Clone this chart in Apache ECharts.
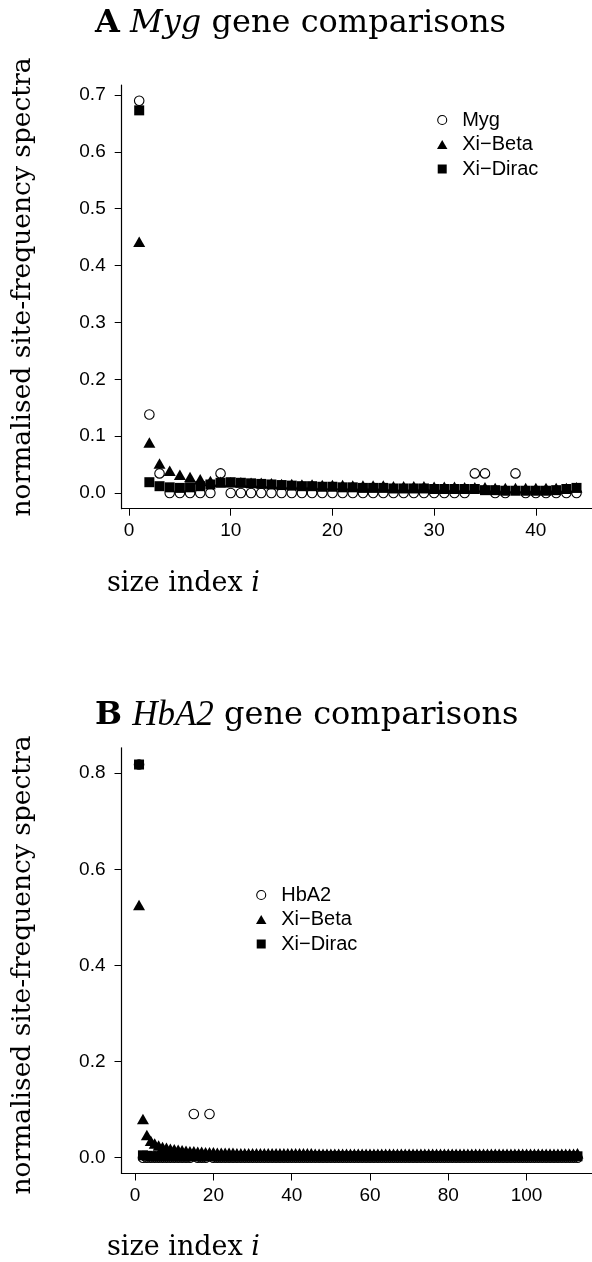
<!DOCTYPE html>
<html><head><meta charset="utf-8">
<script src="https://cdn.jsdelivr.net/npm/echarts@6/dist/echarts.min.js"></script>
<style>html,body{margin:0;padding:0;background:#fff}#c{width:592px;height:1262px}</style>
</head><body><div id="c"></div>
<script>
// ---------- Panel A: Myg ----------
const sizeTop = [1,2,3,4,5,6,7,8,9,10,
  11,12,13,14,15,16,17,18,19,20,
  21,22,23,24,25,26,27,28,29,30,
  31,32,33,34,35,36,37,38,39,40,
  41,42,43,44];
const mygTop = [0.690,0.138,0.0345,0,0,0,0,0,0.0345,0,
  0,0,0,0,0,0,0,0,0,0,
  0,0,0,0,0,0,0,0,0,0,
  0,0,0,0.0345,0.0345,0,0,0.0345,0,0,
  0,0,0,0];
const betaTop = [0.439,0.086,0.049,0.036,0.029,0.025,0.021,0.018,0.017,0.016,
  0.016,0.015,0.015,0.014,0.013,0.013,0.012,0.012,0.011,0.011,
  0.011,0.010,0.010,0.010,0.010,0.009,0.009,0.009,0.009,0.008,
  0.008,0.008,0.007,0.007,0.007,0.006,0.006,0.006,0.006,0.006,
  0.006,0.006,0.006,0.007];
const diracTop = [0.673,0.019,0.012,0.010,0.009,0.010,0.012,0.015,0.018,0.019,
  0.018,0.017,0.016,0.015,0.014,0.013,0.012,0.012,0.011,0.011,
  0.010,0.010,0.009,0.009,0.009,0.008,0.008,0.008,0.008,0.007,
  0.007,0.007,0.007,0.007,0.005,0.005,0.004,0.004,0.004,0.004,
  0.004,0.005,0.007,0.009];
const xTicksTop = [0,10,20,30,40];
const yTicksTop = [0,0.1,0.2,0.3,0.4,0.5,0.6,0.7];

// ---------- Panel B: HbA2 ----------
const sizeBottom = [1,2,3,4,5,6,7,8,9,10,
  11,12,13,14,15,16,17,18,19,20,
  21,22,23,24,25,26,27,28,29,30,
  31,32,33,34,35,36,37,38,39,40,
  41,42,43,44,45,46,47,48,49,50,
  51,52,53,54,55,56,57,58,59,60,
  61,62,63,64,65,66,67,68,69,70,
  71,72,73,74,75,76,77,78,79,80,
  81,82,83,84,85,86,87,88,89,90,
  91,92,93,94,95,96,97,98,99,100,
  101,102,103,104,105,106,107,108,109,110,
  111,112,113];
const hbBottom = [0.818,0,0,0,0,0,0,0,0,0,
  0,0,0,0,0.091,0,0,0,0.091,0,
  0,0,0,0,0,0,0,0,0,0,
  0,0,0,0,0,0,0,0,0,0,
  0,0,0,0,0,0,0,0,0,0,
  0,0,0,0,0,0,0,0,0,0,
  0,0,0,0,0,0,0,0,0,0,
  0,0,0,0,0,0,0,0,0,0,
  0,0,0,0,0,0,0,0,0,0,
  0,0,0,0,0,0,0,0,0,0,
  0,0,0,0,0,0,0,0,0,0,
  0,0,0];
const betaBottom = [0.522,0.077,0.044,0.032,0.026,0.022,0.019,0.017,0.015,0.014,
  0.013,0.012,0.011,0.010,0.010,0.009,0.009,0.008,0.008,0.008,
  0.007,0.007,0.007,0.007,0.007,0.006,0.006,0.006,0.006,0.006,
  0.006,0.006,0.006,0.006,0.006,0.006,0.006,0.006,0.006,0.006,
  0.006,0.006,0.006,0.006,0.006,0.005,0.005,0.005,0.005,0.005,
  0.005,0.005,0.005,0.005,0.005,0.005,0.005,0.005,0.005,0.005,
  0.005,0.005,0.005,0.005,0.005,0.005,0.005,0.005,0.005,0.005,
  0.005,0.005,0.005,0.005,0.005,0.005,0.005,0.005,0.005,0.005,
  0.005,0.005,0.005,0.005,0.005,0.005,0.005,0.005,0.005,0.005,
  0.005,0.005,0.005,0.005,0.005,0.005,0.005,0.005,0.005,0.005,
  0.005,0.005,0.005,0.005,0.005,0.005,0.005,0.005,0.005,0.005,
  0.005,0.005,0.006];
const diracBottom = [0.818,0.005,0.004,0.003,0.003,0.003,0.003,0.003,0.003,0.003,
  0.003,0.003,0.003,0.003,0.003,0.003,0.003,0.003,0.003,0.003,
  0.003,0.003,0.003,0.003,0.003,0.003,0.003,0.003,0.003,0.003,
  0.003,0.003,0.003,0.003,0.003,0.003,0.003,0.003,0.003,0.003,
  0.003,0.003,0.003,0.003,0.003,0.003,0.003,0.003,0.003,0.003,
  0.003,0.003,0.003,0.003,0.003,0.003,0.003,0.003,0.003,0.003,
  0.003,0.003,0.003,0.003,0.003,0.003,0.003,0.003,0.003,0.003,
  0.003,0.003,0.003,0.003,0.003,0.003,0.003,0.003,0.003,0.003,
  0.003,0.003,0.003,0.003,0.003,0.003,0.003,0.003,0.003,0.003,
  0.003,0.003,0.003,0.003,0.003,0.003,0.003,0.003,0.003,0.003,
  0.003,0.003,0.003,0.003,0.003,0.003,0.003,0.003,0.003,0.003,
  0.003,0.003,0.003];
const xTicksBottom = [0,20,40,60,80,100];
const yTicksBottom = [0,0.2,0.4,0.6,0.8];

const legendTop = ['Myg','Xi\u2212Beta','Xi\u2212Dirac'];
const legendBottom = ['HbA2','Xi\u2212Beta','Xi\u2212Dirac'];

// ---------- styling helpers ----------
const SANS = "'Liberation Sans', Arial, sans-serif";
const SERIF = "'DejaVu Serif', serif";
const SERIF2 = "'Liberation Serif', serif";
const pairs = (xs, ys) => xs.map((x, k) => [x, ys[k]]);

function axisX(gi, min, max, ticks) {
  return {
    gridIndex: gi, type: 'value', min: min, max: max,
    axisLine: {show: true, onZero: false, lineStyle: {color: '#000', width: 1.2}},
    axisTick: {show: true, inside: false, length: 7, customValues: ticks, lineStyle: {color: '#000', width: 1}},
    axisLabel: {customValues: ticks, color: '#000', fontFamily: SANS, fontSize: 19, margin: 13,
      formatter: v => String(Math.round(v))},
    splitLine: {show: false}
  };
}
function axisY(gi, min, max, ticks) {
  return {
    gridIndex: gi, type: 'value', min: min, max: max,
    axisLine: {show: true, onZero: false, lineStyle: {color: '#000', width: 1.2}},
    axisTick: {show: true, inside: false, length: 7, customValues: ticks, lineStyle: {color: '#000', width: 1}},
    axisLabel: {customValues: ticks, color: '#000', fontFamily: SANS, fontSize: 19, margin: 16,
      formatter: v => v.toFixed(1)},
    splitLine: {show: false}
  };
}
const circleStyle = {color: 'rgba(0,0,0,0)', borderColor: '#000', borderWidth: 1.1, opacity: 1};
const fillStyle = {color: '#000', borderWidth: 0, opacity: 1};
function trio(gi, xs, a, b, c, nameA) {
  return [
    {type: 'scatter', name: nameA, xAxisIndex: gi, yAxisIndex: gi, data: pairs(xs, a),
      symbol: 'circle', symbolSize: 9.5, itemStyle: circleStyle, silent: true, z: 2},
    {type: 'scatter', name: 'Xi\u2212Beta', xAxisIndex: gi, yAxisIndex: gi, data: pairs(xs, b),
      symbol: 'triangle', symbolSize: [12, 10.5], symbolOffset: [0, -1.7], itemStyle: fillStyle, silent: true, z: 3},
    {type: 'scatter', name: 'Xi\u2212Dirac', xAxisIndex: gi, yAxisIndex: gi, data: pairs(xs, c),
      symbol: 'rect', symbolSize: 10, itemStyle: fillStyle, silent: true, z: 4}
  ];
}
function legendItems(names) {
  return [
    {name: names[0], icon: 'circle', itemStyle: circleStyle},
    {name: names[1], icon: 'path://M0,19L11,0L22,19Z', itemStyle: fillStyle},
    {name: names[2], icon: 'path://M0,0L10,0L10,10L0,10Z', itemStyle: fillStyle}
  ];
}
function legendCfg(names, left, top) {
  return {
    data: legendItems(names), orient: 'vertical', left: left, top: top,
    itemWidth: 30, itemHeight: 9, itemGap: 4.5, padding: 0, selectedMode: false,
    symbolKeepAspect: true,
    textStyle: {fontFamily: SANS, fontSize: 20, color: '#000', lineHeight: 20}
  };
}
const titleRich = {
  b: {fontFamily: SERIF, fontSize: 32, fontWeight: 'bold', fill: '#000'},
  i: {fontFamily: SERIF, fontSize: 32, fontStyle: 'italic', fill: '#000'},
  j: {fontFamily: SERIF2, fontSize: 35, fontStyle: 'italic', fill: '#000'},
  s: {fontFamily: SERIF, fontSize: 27, fontStyle: 'italic', fill: '#000'}
};
function txt(x, y, text, size, rot, align) {
  return {type: 'text', x: x, y: y, rotation: rot || 0, silent: true,
    style: {text: text, fontFamily: SERIF, fontSize: size, fill: '#000',
      align: align || 'left', verticalAlign: 'middle', rich: titleRich}};
}

const chart = echarts.init(document.getElementById('c'), null, {renderer: 'canvas'});
chart.setOption({
  animation: false,
  backgroundColor: '#fff',
  grid: [
    {left: 121.7, top: 85, width: 472.3, height: 423.7, outerBoundsMode: 'none', containLabel: false},
    {left: 121.5, top: 747.8, width: 473.5, height: 425.7, outerBoundsMode: 'none', containLabel: false}
  ],
  xAxis: [axisX(0, -0.72, 45.72, xTicksTop), axisX(1, -3.48, 117.48, xTicksBottom)],
  yAxis: [axisY(0, -0.0276, 0.7176, yTicksTop), axisY(1, -0.0328, 0.8528, yTicksBottom)],
  legend: [legendCfg(legendTop, 437, 110), legendCfg(legendBottom, 256, 885)],
  series: [].concat(
    trio(0, sizeTop, mygTop, betaTop, diracTop, 'Myg'),
    trio(1, sizeBottom, hbBottom, betaBottom, diracBottom, 'HbA2')
  ),
  graphic: [
    txt(95, 24, '{b|A} {i|Myg} gene comparisons', 32),
    txt(95, 716, '{b|B} {j|HbA2} gene comparisons', 32),
    txt(107, 583.5, 'size index {s|i}', 27),
    txt(107, 1247.5, 'size index {s|i}', 27),
    txt(23, 287, 'normalised site-frequency spectra', 26.5, Math.PI / 2, 'center'),
    txt(23, 965, 'normalised site-frequency spectra', 26.5, Math.PI / 2, 'center')
  ]
});
</script></body></html>
